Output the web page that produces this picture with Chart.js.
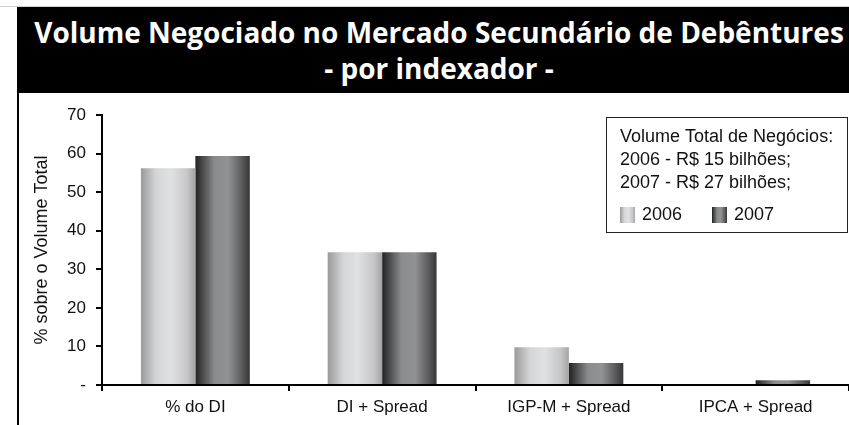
<!DOCTYPE html>
<html>
<head>
<meta charset="utf-8">
<script src="https://cdn.jsdelivr.net/npm/chart.js@4.4.1/dist/chart.umd.min.js"></script>
<style>
  html, body { margin: 0; padding: 0; background: #fff; }
  #wrap { position: relative; width: 849px; height: 425px; overflow: hidden; }
  #topline { position: absolute; left: 0; top: 6px; width: 849px; height: 1px; background: #cfcfcf; }
  #title {
    position: absolute; left: 17px; top: 7px; width: 832px; height: 86px;
    box-sizing: border-box; padding: 7px 0 0 12px;
    background: #000; color: #fff; text-align: center;
    font-family: "Open Sans", sans-serif; font-weight: 700; font-size: 28px; line-height: 36px;
  }
  #frame { position: absolute; left: 17px; top: 93px; width: 2px; height: 332px; background: #000; }
  canvas { position: absolute; left: 0; top: 0; }
</style>
</head>
<body>
<div id="wrap">
  <canvas id="barChart" width="849" height="425"></canvas>
  <div id="topline"></div>
  <div id="title">Volume Negociado no Mercado Secundário de Debêntures<br>- por indexador -</div>
  <div id="frame"></div>
</div>
<script>
const categories = ["% do DI", "DI + Spread", "IGP-M + Spread", "IPCA + Spread"];
const series2006 = [56.2, 34.4, 9.8, 0];
const series2007 = [59.4, 34.4, 5.7, 1.2];
const seriesLabels = ["2006", "2007"];
const boxLines = ["Volume Total de Negócios:", "2006 - R$ 15 bilhões;", "2007 - R$ 27 bilhões;"];

// gradient stops for the "cylinder" look of each series
const lightStops = [[0, "#9a9a9a"], [0.28, "#d4d5d7"], [0.55, "#e0e1e3"], [0.85, "#c6c6c8"], [1, "#a4a4a4"]];
const darkStops = [[0, "#222222"], [0.35, "#8a8b8d"], [0.6, "#929395"], [0.85, "#5c5c5e"], [1, "#363636"]];
const stopsBySeries = [lightStops, darkStops];

const FONT = "'Liberation Sans', Arial, sans-serif";

function makeGradient(ctx, x0, x1, stops) {
  const g = ctx.createLinearGradient(x0, 0, x1, 0);
  stops.forEach(([p, c]) => g.addColorStop(p, c));
  return g;
}

// paint bars with horizontal gradients
const gradientBars = {
  id: "gradientBars",
  beforeDatasetsDraw(chart) {
    const ctx = chart.ctx;
    chart.data.datasets.forEach((ds, i) => {
      chart.getDatasetMeta(i).data.forEach((el) => {
        const { x, width } = el.getProps(["x", "width"], true);
        const fill = makeGradient(ctx, x - width / 2, x + width / 2, stopsBySeries[i]);
        el.options = Object.assign({}, el.options, { backgroundColor: fill });
      });
    });
  }
};

// text box with totals and the legend
const infoBox = {
  id: "infoBox",
  afterDraw(chart) {
    const ctx = chart.ctx;
    const bx = 606, by = 117, bw = 241, bh = 115;
    ctx.save();
    ctx.fillStyle = "#fff";
    ctx.fillRect(bx, by, bw, bh);
    ctx.strokeStyle = "#222";
    ctx.lineWidth = 1;
    ctx.strokeRect(bx + 0.5, by + 0.5, bw, bh);

    ctx.fillStyle = "#111";
    ctx.font = "18px " + FONT;
    ctx.textBaseline = "middle";
    boxLines.forEach((line, i) => {
      ctx.fillText(line, 620, 137 + i * 23);
    });

    const itemX = [620, 712];
    seriesLabels.forEach((label, i) => {
      ctx.fillStyle = makeGradient(ctx, itemX[i], itemX[i] + 15, stopsBySeries[i]);
      ctx.fillRect(itemX[i], 207, 15, 16);
      ctx.fillStyle = "#111";
      ctx.fillText(label, itemX[i] + 22, 215);
    });
    ctx.restore();
  }
};

new Chart(document.getElementById("barChart"), {
  type: "bar",
  data: {
    labels: categories,
    datasets: [
      { label: seriesLabels[0], data: series2006, backgroundColor: "#d0d0d0", borderWidth: 0 },
      { label: seriesLabels[1], data: series2007, backgroundColor: "#808080", borderWidth: 0 }
    ]
  },
  options: {
    responsive: false,
    animation: false,
    categoryPercentage: 0.583,
    barPercentage: 1,
    layout: { padding: { left: 18, top: 115, right: 0, bottom: 0 } },
    plugins: {
      legend: { display: false },
      title: { display: false },
      tooltip: { enabled: false }
    },
    scales: {
      x: {
        afterFit(scale) { scale.height = 40; },
        border: { color: "#000", width: 2 },
        grid: { drawOnChartArea: false, color: "#000", lineWidth: 2, tickLength: 6 },
        ticks: { color: "#111", font: { family: FONT, size: 17 }, padding: 6 }
      },
      y: {
        min: 0,
        max: 70,
        afterFit(scale) { scale.width = 84; },
        border: { color: "#000", width: 2 },
        grid: { drawOnChartArea: false, color: "#000", lineWidth: 2, tickLength: 6 },
        ticks: {
          stepSize: 10,
          color: "#111",
          font: { family: FONT, size: 17 },
          padding: 10,
          callback: (v) => (v === 0 ? "-" : v)
        },
        title: {
          display: true,
          text: "% sobre o Volume Total",
          color: "#111",
          font: { family: FONT, size: 18 },
          padding: { top: 13 }
        }
      }
    }
  },
  plugins: [gradientBars, infoBox]
});
</script>
</body>
</html>
